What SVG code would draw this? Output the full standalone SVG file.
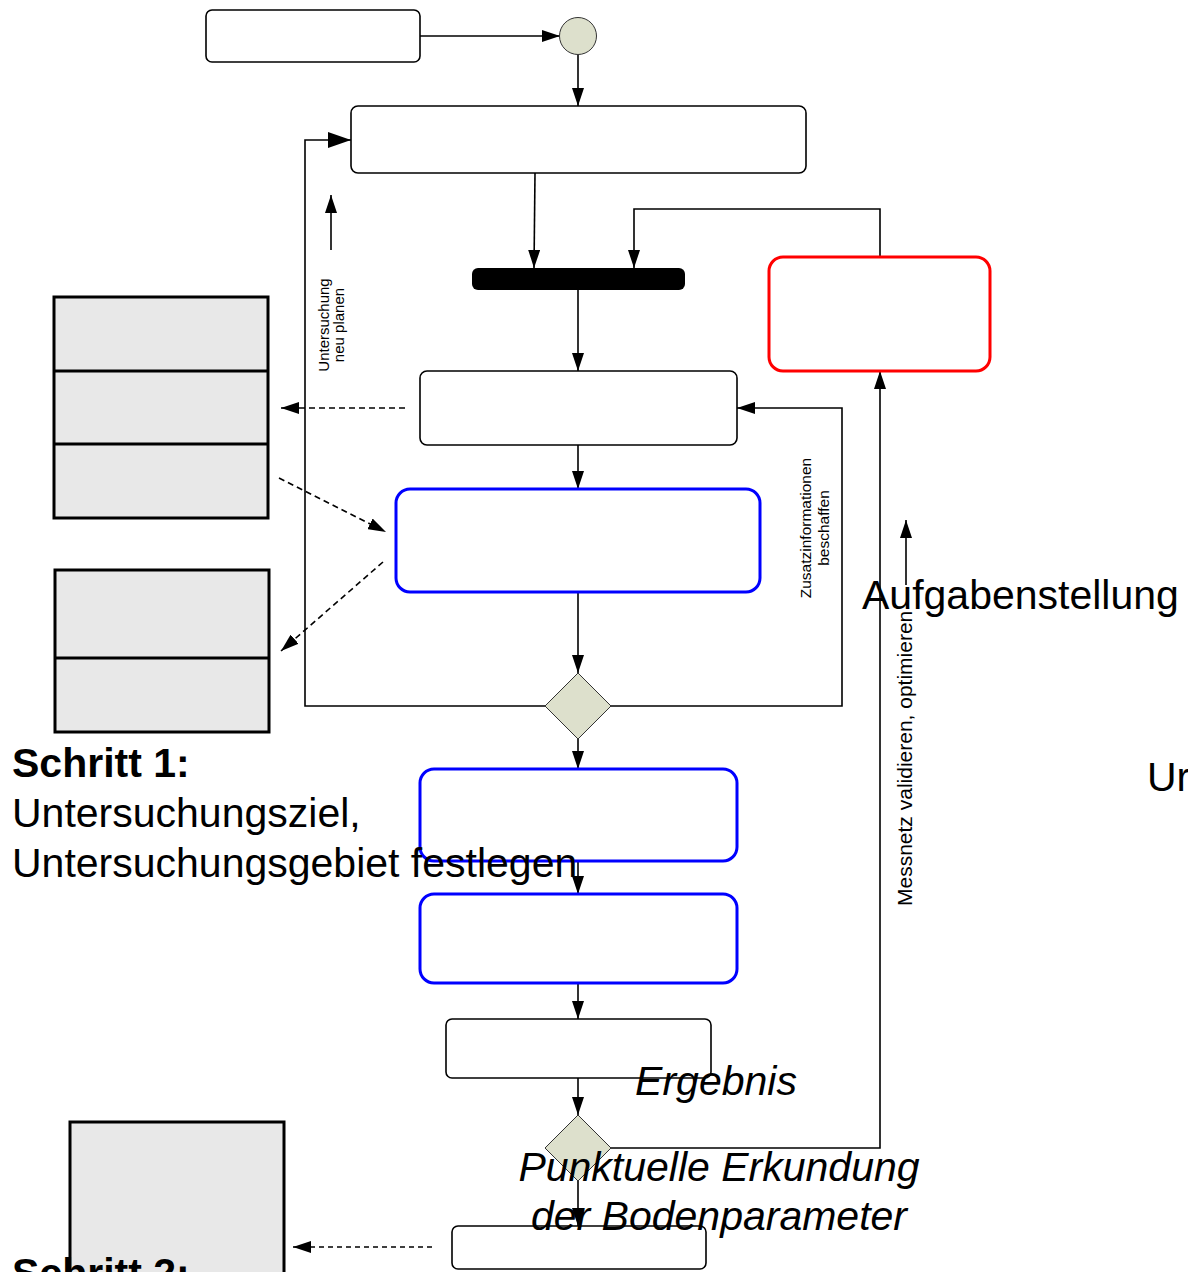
<svg xmlns="http://www.w3.org/2000/svg" width="1188" height="1272" viewBox="0 0 1188 1272">
<style>
.box{fill:#fff;stroke:#000;stroke-width:1.6}
.blue{fill:#fff;stroke:#0000ff;stroke-width:3}
.red{fill:#fff;stroke:#ff0000;stroke-width:3}
.gray{fill:#e8e8e8;stroke:#000;stroke-width:3}
.dia{fill:#dde0cc;stroke:#333;stroke-width:1}
.ln{fill:none;stroke:#000;stroke-width:1.6}
.dash{fill:none;stroke:#000;stroke-width:1.6;stroke-dasharray:6,4}
.big{font-family:"Liberation Sans",Arial,sans-serif;font-size:41px;fill:#000}
.small{font-family:"Liberation Sans",Arial,sans-serif;font-size:15px;fill:#000}
</style>
<defs>
<marker id="ah" markerUnits="userSpaceOnUse" markerWidth="18" markerHeight="12" refX="18" refY="6" orient="auto">
<path d="M0,0 L18,6 L0,12 z" fill="#000"/>
</marker>
<marker id="ahb" markerUnits="userSpaceOnUse" markerWidth="23" markerHeight="16" refX="23" refY="8" orient="auto">
<path d="M0,0 L23,8 L0,16 z" fill="#000"/>
</marker>
</defs>

<g id="connectors">
<path class="ln" d="M420,36 L560,36" marker-end="url(#ah)"/>
<path class="ln" d="M578,55 L578,106" marker-end="url(#ah)"/>
<path class="ln" d="M535,173 L534,268" marker-end="url(#ah)"/>
<path class="ln" d="M880,257 L880,209 L634,209 L634,268" marker-end="url(#ah)"/>
<path class="ln" d="M578,290 L578,371" marker-end="url(#ah)"/>
<path class="ln" d="M578,445 L578,489" marker-end="url(#ah)"/>
<path class="ln" d="M578,592 L578,673" marker-end="url(#ah)"/>
<path class="ln" d="M545,706 L305,706 L305,140 L351,140" marker-end="url(#ahb)"/>
<path class="ln" d="M611,706 L842,706 L842,408 L737,408" marker-end="url(#ah)"/>
<path class="ln" d="M578,739 L578,769" marker-end="url(#ah)"/>
<path class="ln" d="M578,861 L578,894" marker-end="url(#ah)"/>
<path class="ln" d="M578,983 L578,1019" marker-end="url(#ah)"/>
<path class="ln" d="M578,1078 L578,1115" marker-end="url(#ah)"/>
<path class="ln" d="M611,1148 L880,1148 L880,371" marker-end="url(#ah)"/>
<path class="ln" d="M578,1181 L578,1226" marker-end="url(#ah)"/>
<path class="dash" d="M405,408 L281,408" marker-end="url(#ah)"/>
<path class="dash" d="M279,478 L386,532" marker-end="url(#ah)"/>
<path class="dash" d="M383,562 L281,651" marker-end="url(#ah)"/>
<path class="dash" d="M432,1247 L293,1247" style="stroke-dasharray:5,4" marker-end="url(#ah)"/>
<path class="ln" d="M331,250 L331,195" marker-end="url(#ah)"/>
<path class="ln" d="M906,585 L906,520" marker-end="url(#ah)"/>
</g>

<g id="n-start-box"><rect class="box" x="206" y="10" width="214" height="52" rx="6"/></g>
<g id="n-start"><ellipse class="dia" cx="578" cy="36" rx="18.5" ry="18.5"/></g>
<g id="n-box1"><rect class="box" x="351" y="106" width="455" height="67" rx="7"/></g>
<g id="n-bar"><rect x="472" y="268" width="213" height="22" rx="6" fill="#000"/></g>
<g id="n-red"><rect class="red" x="769" y="257" width="221" height="114" rx="14"/></g>
<g id="n-box2"><rect class="box" x="420" y="371" width="317" height="74" rx="7"/></g>
<g id="n-blue1"><rect class="blue" x="396" y="489" width="364" height="103" rx="14"/></g>
<g id="n-dec1"><polygon class="dia" points="578,673 611,706 578,739 545,706"/></g>
<g id="n-blue2"><rect class="blue" x="420" y="769" width="317" height="92" rx="14"/></g>
<g id="n-blue3"><rect class="blue" x="420" y="894" width="317" height="89" rx="14"/></g>
<g id="n-box4"><rect class="box" x="446" y="1019" width="265" height="59" rx="6"/></g>
<g id="n-dec2"><polygon class="dia" points="578,1115 611,1148 578,1181 545,1148"/></g>
<g id="n-box5"><rect class="box" x="452" y="1226" width="254" height="43" rx="6"/></g>

<g id="n-stack1">
<rect class="gray" x="54" y="297" width="214" height="221"/>
<line x1="54" y1="371" x2="268" y2="371" stroke="#000" stroke-width="3"/>
<line x1="54" y1="444" x2="268" y2="444" stroke="#000" stroke-width="3"/>
</g>
<g id="n-stack2">
<rect class="gray" x="55" y="570" width="214" height="162"/>
<line x1="55" y1="658" x2="269" y2="658" stroke="#000" stroke-width="3"/>
</g>
<g id="n-stack3"><rect class="gray" x="70" y="1122" width="214" height="160"/></g>

<g id="labels">
<text class="small" text-anchor="middle" transform="translate(329,325) rotate(-90)">Untersuchung</text>
<text class="small" text-anchor="middle" transform="translate(344,325) rotate(-90)">neu planen</text>
<text class="small" style="font-size:15.5px" text-anchor="middle" transform="translate(811,528) rotate(-90)">Zusatzinformationen</text>
<text class="small" style="font-size:15.5px" text-anchor="middle" transform="translate(829,528) rotate(-90)">beschaffen</text>
<text class="small" style="font-size:21px" transform="translate(912,906) rotate(-90)">Messnetz validieren, optimieren</text>
<text class="big" x="862" y="609">Aufgabenstellung</text>
<text class="big" x="1147" y="791">Ur</text>
<text class="big" x="12" y="777" font-weight="bold">Schritt 1:</text>
<text class="big" x="12" y="827">Untersuchungsziel,</text>
<text class="big" x="12" y="877">Untersuchungsgebiet festlegen</text>
<text class="big" x="716" y="1095" text-anchor="middle" font-style="italic">Ergebnis</text>
<text class="big" x="719" y="1181" text-anchor="middle" font-style="italic">Punktuelle Erkundung</text>
<text class="big" x="719" y="1230" text-anchor="middle" font-style="italic">der Bodenparameter</text>
<text class="big" x="12" y="1287" font-weight="bold">Schritt 2:</text>
</g>
</svg>
